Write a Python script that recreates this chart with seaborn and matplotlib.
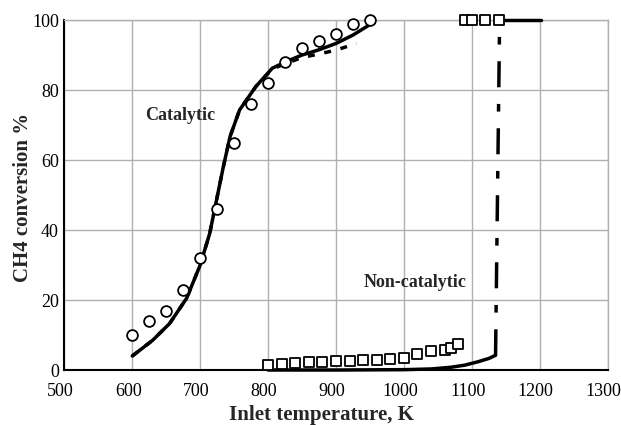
import matplotlib
matplotlib.use("Agg")
import matplotlib.pyplot as plt
import matplotlib.transforms as mtransforms
import seaborn as sns
from matplotlib.ticker import MultipleLocator

sns.set_style("white")
plt.rcParams['font.family'] = ['Liberation Serif', 'DejaVu Serif']

# Catalytic experiments (circles)
cat_exp_T = [600, 625, 650, 675, 700, 725, 750, 775, 800, 825, 850, 875, 900, 925, 950]
cat_exp_X = [10, 14, 17, 23, 32, 46, 65, 76, 82, 88, 92, 94, 96, 99, 100]

# Catalytic model (solid)
cat_mod_T = [600, 630, 655, 680, 700, 714, 724, 734, 744, 758, 782, 806, 825, 850, 875, 900, 925, 955]
cat_mod_X = [4, 8.5, 13.3, 20.5, 30, 39, 48.5, 58, 66.7, 74.3, 81, 86.2, 88, 90, 91.5, 93.3, 95.7, 99.3]

# Catalytic model 2 (dashed)
cat_mod2_T = [600, 630, 655, 680, 700, 714, 724, 734, 744, 758, 782, 806, 825, 850, 875, 900, 930]
cat_mod2_X = [4, 8.5, 13.3, 20.5, 30, 39, 48.5, 58, 66.7, 74.3, 81, 86, 87.5, 89.3, 90.3, 91.4, 93.3]

# Non-catalytic experiments (squares)
nc_exp_T = [800, 820, 840, 860, 880, 900, 920, 940, 960, 980, 1000, 1020, 1040, 1060, 1070, 1080,
            1090, 1100, 1120, 1140]
nc_exp_X = [1.5, 1.8, 2.0, 2.2, 2.4, 2.5, 2.7, 2.8, 3.0, 3.1, 3.3, 4.6, 5.3, 5.8, 6.3, 7.4,
            100, 100, 100, 100]

# Non-catalytic model (solid, then dash-dot jump, then solid)
nc_mod_T = [800, 900, 1000, 1040, 1070, 1090, 1110, 1125, 1135]
nc_mod_X = [0, 0, 0.1, 0.3, 0.8, 1.4, 2.4, 3.3, 4.2]
nc_jump_T = [1135, 1141]
nc_jump_X = [4.2, 100]
nc_top_T = [1141, 1202]
nc_top_X = [100, 100]

x_ticks = [500, 600, 700, 800, 900, 1000, 1100, 1200, 1300]
y_ticks = [0, 20, 40, 60, 80, 100]

fig = plt.figure(figsize=(6.21, 4.25), dpi=100)
ax = fig.add_axes([0.1037, 0.1294, 0.8747, 0.8235])

grid_c = '#b0b0b0'
ax.set_xlim(500, 1300)
ax.set_ylim(0, 100)
ax.set_xticks(x_ticks)
ax.set_yticks(y_ticks)
ax.xaxis.set_minor_locator(MultipleLocator(25))
ax.yaxis.set_minor_locator(MultipleLocator(10))
ax.grid(True, which='major', color=grid_c, linewidth=1.0)
ax.set_axisbelow(True)

ax.tick_params(axis='both', which='both', direction='in', colors='black',
               labelsize=13, top=False, right=False)
ax.tick_params(axis='both', which='major', length=6, width=1.2)
ax.tick_params(axis='both', which='minor', length=4, width=1.2)
ax.tick_params(axis='x', pad=9)
ax.tick_params(axis='y', pad=4)

for s in ['left', 'bottom']:
    ax.spines[s].set_color('black')
    ax.spines[s].set_linewidth(1.5)
for s in ['top', 'right']:
    ax.spines[s].set_color(grid_c)
    ax.spines[s].set_linewidth(1.0)

lw = 2.5
sns.lineplot(x=cat_mod_T, y=cat_mod_X, ax=ax, color='black', lw=lw, sort=False, zorder=3)
sns.lineplot(x=cat_mod2_T, y=cat_mod2_X, ax=ax, color='black', lw=lw, sort=False, zorder=3,
             linestyle=(0, (2.0, 2.8)))
sns.lineplot(x=nc_mod_T, y=nc_mod_X, ax=ax, color='black', lw=lw, sort=False, zorder=3, clip_on=False)
sns.lineplot(x=nc_jump_T, y=nc_jump_X, ax=ax, color='black', lw=lw, sort=False, zorder=3,
             linestyle=(0, (7.5, 4.8, 2.2, 4.8)))
sns.lineplot(x=nc_top_T, y=nc_top_X, ax=ax, color='black', lw=lw, sort=False, zorder=3, clip_on=False)

sns.scatterplot(x=cat_exp_T, y=cat_exp_X, ax=ax, marker='o', s=60, facecolor='white',
                edgecolor='black', linewidth=1.3, zorder=4, clip_on=False)
sns.scatterplot(x=nc_exp_T, y=nc_exp_X, ax=ax, marker='s', s=60, facecolor='white',
                edgecolor='black', linewidth=1.3, zorder=4, clip_on=False)

ax.text(670, 72.6, 'Catalytic', ha='center', va='center', fontsize=13, fontweight='bold')
ax.text(1016, 25, 'Non-catalytic', ha='center', va='center', fontsize=13, fontweight='bold')

ax.set_xlabel('Inlet temperature, K', fontsize=15, fontweight='bold')
ax.set_ylabel('CH4 conversion %', fontsize=15, fontweight='bold')
ax.xaxis.set_label_coords(0.474, -0.10)
ax.yaxis.set_label_coords(-0.058, 0.494)

# shift x tick labels slightly left, as in the reference
offset = mtransforms.ScaledTranslation(-4 / 100, 0, fig.dpi_scale_trans)
for lab in ax.get_xticklabels():
    lab.set_transform(lab.get_transform() + offset)

fig.savefig('out.png', dpi=100)
